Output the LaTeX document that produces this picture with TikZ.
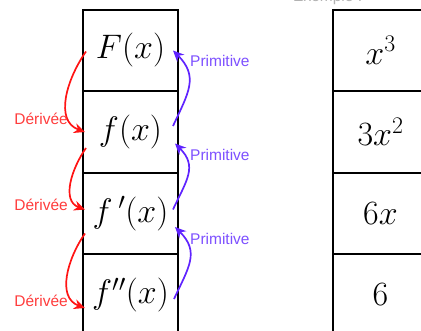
\documentclass[tikz,border=0pt]{standalone}
\usepackage{fix-cm}
\usepackage{amsmath,amssymb}
\usepackage{fontspec}
\newfontfamily\labfont{Liberation Sans}
\usepackage{tikz}
\usetikzlibrary{arrows.meta,positioning,calc}
\definecolor{DerivRed}{RGB}{255,20,20}
\definecolor{DerivText}{RGB}{255,60,60}
\definecolor{PrimBlue}{RGB}{95,35,255}
\definecolor{PrimText}{RGB}{125,80,255}

\begin{document}
\begin{tikzpicture}[
  x=1pt,y=1pt,
  node distance=0pt,
  cell/.style={rectangle,draw=black,line width=2.2pt,outer sep=0pt,
               minimum width=95pt,minimum height=81.5pt,
               font=\fontsize{34}{40}\selectfont},
  deriv/.style={-{Stealth[length=11pt,width=10pt]},line width=1.7pt,DerivRed},
  prim/.style={-{Stealth[length=11pt,width=10pt]},line width=1.7pt,PrimBlue},
  derivlab/.style={anchor=east,inner sep=0pt,text=DerivText,
                   font=\labfont\fontsize{15.5}{18}\selectfont},
  primlab/.style={anchor=west,inner sep=0pt,text=PrimText,
                  font=\labfont\fontsize{15.5}{18}\selectfont}
]
  \useasboundingbox (0,0) rectangle (421,331);

  % left column
  \node[cell] (F) at (130.5,280.5) {$F(x)$};
  \node[cell,below=of F] (f)   {$f(x)$};
  \node[cell,below=of f] (fp)  {$f\,'(x)$};
  \node[cell,below=of fp] (fpp) {$f''(x)$};

  % example column
  \node[cell] (ex0) at (380.5,280.5) {$x^3$};
  \node[cell,below=of ex0] (ex1) {$3x^2$};
  \node[cell,below=of ex1] (ex2) {$6x$};
  \node[cell,below=of ex2] (ex3) {$6$};

  \node[anchor=base west,inner sep=0pt,text=black!30,
        font=\labfont\fontsize{15.5}{18}\selectfont] (exlab) at (293,329.8) {Exemple :};

  % derivative arrows
  \draw[deriv] ([shift={(3,-1)}]F.west)
    to[out=235,in=160,looseness=1.05] ([shift={(2,0)}]f.west);
  \draw[deriv] ([shift={(3,-16)}]f.west)
    to[out=235,in=160,looseness=1.05] ([shift={(2,4)}]fp.west);
  \draw[deriv] ([shift={(2,-20)}]fp.west)
    to[out=235,in=160,looseness=1.05] ([shift={(2,-13)}]fpp.west);

  \node[derivlab] (d1) at ([shift={(-15,13.5)}]f.west)  {Dérivée};
  \node[derivlab] (d2) at ([shift={(-15,8.5)}]fp.west)  {Dérivée};
  \node[derivlab] (d3) at ([shift={(-15,-5.5)}]fpp.west) {Dérivée};

  % primitive arrows
  \draw[prim] ([shift={(-5,6)}]f.east)
    to[out=65,in=-45,looseness=1.25] ([shift={(-5,0)}]F.east);
  \draw[prim] ([shift={(-5,4)}]fp.east)
    to[out=65,in=-45,looseness=1.25] ([shift={(-3,-11.5)}]f.east);
  \draw[prim] ([shift={(-4,-4)}]fpp.east)
    to[out=65,in=-45,looseness=1.25] ([shift={(-3,-13.5)}]fp.east);

  \node[primlab] (p1) at ([shift={(12,-10)}]F.east)   {Primitive};
  \node[primlab] (p2) at ([shift={(12,-22.5)}]f.east) {Primitive};
  \node[primlab] (p3) at ([shift={(12,-25.5)}]fp.east) {Primitive};
\end{tikzpicture}
\end{document}
